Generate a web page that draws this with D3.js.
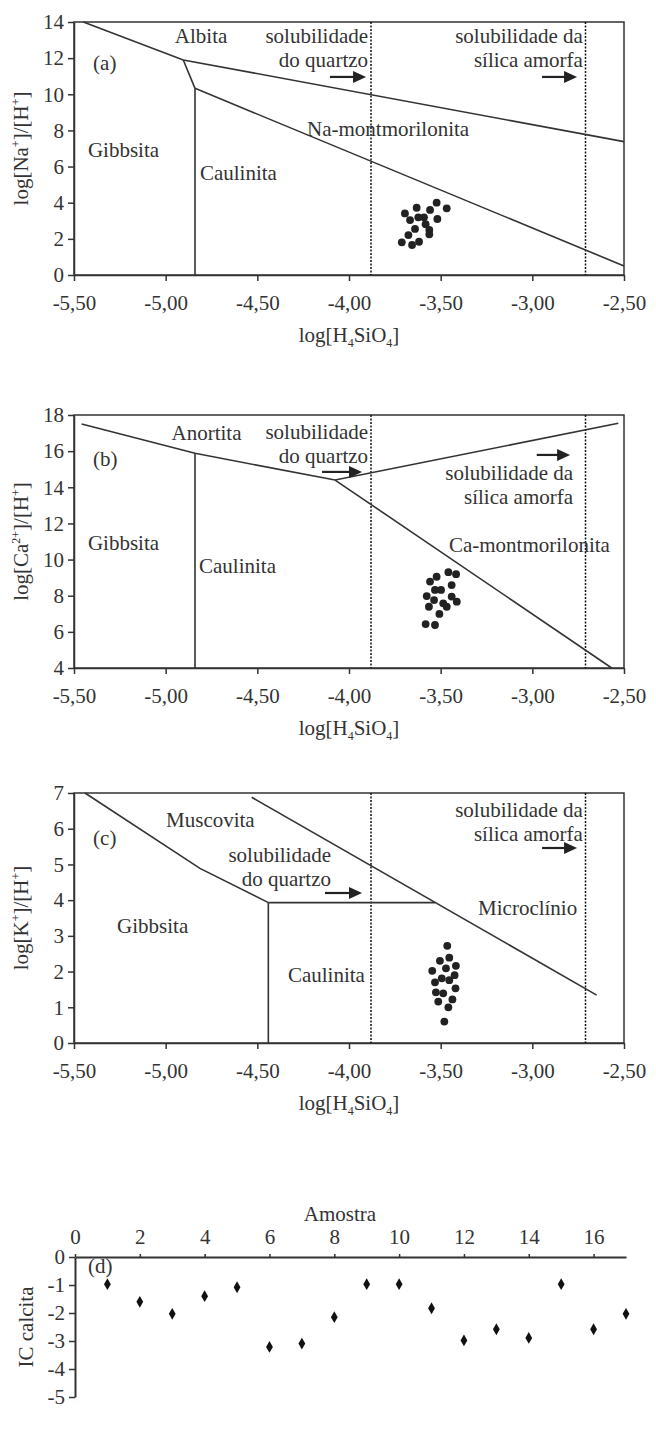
<!DOCTYPE html>
<html>
<head>
<meta charset="utf-8">
<script src="https://cdn.jsdelivr.net/npm/d3@7"></script>
<style>
    body { margin: 0; background: #fff; }
    svg text { font-family: "Liberation Serif", "Times New Roman", serif; fill: #333; }
</style>
</head>
<body>
<div id="chart"></div>
<script>

// shared x axis of the three stability diagrams
var xTicks = [-5.5, -5, -4.5, -4, -3.5, -3, -2.5];
var xTickLabels = ["-5,50", "-5,00", "-4,50", "-4,00", "-3,50", "-3,00", "-2,50"];
var silicaLimits = [-3.88, -2.71];   // quartzo, silica amorfa

// (a) Na
var naTicks = [0, 2, 4, 6, 8, 10, 12, 14];
var naBoundaries = [
    [[-5.449, 14], [-4.904, 11.9], [-2.5, 7.38]],
    [[-4.904, 11.9], [-4.84, 10.33]],
    [[-4.84, 10.33], [-4.84, 0]],
    [[-4.84, 10.33], [-2.5, 0.5]]
];
var naSilica = [-3.695, -3.631, -3.667, -3.622, -3.591, -3.558, -3.522, -3.467, -3.518, -3.582, -3.640, -3.562, -3.562, -3.676, -3.712, -3.656, -3.618];
var naRatio = [3.41, 3.72, 3.04, 3.19, 3.19, 3.60, 4.00, 3.69, 3.10, 2.81, 2.55, 2.49, 2.25, 2.21, 1.81, 1.66, 1.84];

// (b) Ca
var caTicks = [4, 6, 8, 10, 12, 14, 16, 18];
var caBoundaries = [
    [[-5.458, 17.5], [-4.84, 15.88], [-4.076, 14.4]],
    [[-4.076, 14.4], [-2.531, 17.54]],
    [[-4.84, 15.88], [-4.84, 4]],
    [[-4.076, 14.4], [-2.567, 4]]
];
var caSilica = [-3.582, -3.531, -3.564, -3.507, -3.576, -3.536, -3.486, -3.467, -3.440, -3.412, -3.531, -3.498, -3.440, -3.522, -3.458, -3.416, -3.558];
var caRatio = [6.43, 6.38, 7.39, 6.99, 7.98, 7.76, 7.58, 7.39, 7.95, 7.67, 8.32, 8.32, 8.59, 9.05, 9.30, 9.19, 8.78];

// (c) K
var kTicks = [0, 1, 2, 3, 4, 5, 6, 7];
var kBoundaries = [
    [[-5.44, 7.0], [-4.813, 4.89], [-4.44, 3.93]],
    [[-4.44, 3.93], [-3.531, 3.93]],
    [[-4.44, 3.93], [-4.44, 0]],
    [[-4.531, 6.88], [-2.649, 1.34]]
];
var kSilica = [-3.464, -3.453, -3.504, -3.546, -3.471, -3.417, -3.531, -3.494, -3.453, -3.424, -3.526, -3.486, -3.419, -3.513, -3.436, -3.458, -3.480];
var kRatio = [2.72, 2.39, 2.30, 2.02, 2.09, 2.16, 1.70, 1.81, 1.76, 1.90, 1.42, 1.39, 1.53, 1.16, 1.22, 1.00, 0.60];

// (d) indice de saturacao da calcita
var amostra = [1, 2, 3, 4, 5, 6, 7, 8, 9, 10, 11, 12, 13, 14, 15, 16, 17];
var icCalcita = [-0.97, -1.60, -2.03, -1.40, -1.08, -3.21, -3.09, -2.15, -0.97, -0.97, -1.83, -2.98, -2.58, -2.89, -0.97, -2.58, -2.03];
var amostraTicks = [0, 2, 4, 6, 8, 10, 12, 14, 16];
var icTicks = [0, -1, -2, -3, -4, -5];

var ink = "#333",
    fontSize = 21,
    lineGap = 24,
    plotLeft = 74,
    plotRight = 624;

var svg = d3.select("#chart").append("svg")
    .attr("width", 656)
    .attr("height", 1430);

var styleAxis = function(sel, width) {
    sel.select(".domain").attr("stroke", ink).attr("stroke-width", width || 1.5);
    sel.selectAll(".tick line").attr("stroke", ink).attr("stroke-width", 1.5);
    sel.selectAll(".tick text")
        .attr("fill", ink)
        .style("font-size", fontSize + "px")
        .style("font-family", '"Liberation Serif", serif');
};

// text with small raised/lowered parts: parts = [[text, shift], ...]
var richText = function(sel, parts) {
    var prev = 0;
    parts.forEach(function(p) {
        var shift = p[1] || 0;
        sel.append("tspan")
            .attr("dy", shift - prev)
            .style("font-size", shift ? "12px" : null)
            .text(p[0]);
        prev = shift;
    });
};

var drawDiagram = function(p) {
    var x = d3.scaleLinear().domain([-5.5, -2.5]).range([plotLeft, plotRight]);
    var y = d3.scaleLinear().domain(p.yDomain).range([p.bottom, p.top]);
    var g = svg.append("g");

    g.append("g")
        .attr("transform", "translate(0," + p.bottom + ")")
        .call(d3.axisBottom(x).tickValues(xTicks)
            .tickFormat(function(d, i) { return xTickLabels[i]; })
            .tickSize(6).tickPadding(14).tickSizeOuter(0))
        .call(styleAxis);

    g.append("g")
        .attr("transform", "translate(" + plotLeft + ",0)")
        .call(d3.axisLeft(y).tickValues(p.yTicks).tickFormat(d3.format("d"))
            .tickSize(6).tickPadding(4).tickSizeOuter(0))
        .call(styleAxis);

    g.append("rect")
        .attr("x", plotLeft).attr("y", p.top)
        .attr("width", plotRight - plotLeft).attr("height", p.bottom - p.top)
        .attr("fill", "none").attr("stroke", ink).attr("stroke-width", 1.5);

    // solubility limits
    g.selectAll(".limit").data(silicaLimits).enter().append("line")
        .attr("x1", x).attr("x2", x)
        .attr("y1", p.top).attr("y2", p.bottom)
        .attr("stroke", "#111").attr("stroke-width", 1.5)
        .attr("stroke-dasharray", "2,1.5");

    var line = d3.line().x(function(d) { return x(d[0]); }).y(function(d) { return y(d[1]); });
    g.selectAll(".boundary").data(p.boundaries).enter().append("path")
        .attr("d", line)
        .attr("fill", "none").attr("stroke", ink).attr("stroke-width", 1.6);

    g.selectAll(".sample").data(p.xs).enter().append("circle")
        .attr("cx", function(d) { return x(d); })
        .attr("cy", function(d, i) { return y(p.ys[i]); })
        .attr("r", 3.9)
        .attr("fill", "#222");

    // arrows
    p.arrows.forEach(function(a) {
        var x1 = x(a[0]), x2 = x(a[1]), yy = y(a[2]);
        g.append("line").attr("x1", x1).attr("x2", x2 - 10).attr("y1", yy).attr("y2", yy)
            .attr("stroke", "#222").attr("stroke-width", 2.2);
        g.append("path")
            .attr("d", "M" + (x2 - 13) + "," + (yy - 6) + "L" + x2 + "," + yy + "L" + (x2 - 13) + "," + (yy + 6) + "Z")
            .attr("fill", "#222");
    });

    // region names and notes
    p.labels.forEach(function(l) {
        l.lines.forEach(function(t, i) {
            g.append("text")
                .attr("x", x(l.x))
                .attr("y", y(l.y) + i * lineGap)
                .attr("text-anchor", l.anchor || "start")
                .style("font-size", fontSize + "px")
                .text(t);
        });
    });

    // axis titles
    var yt = g.append("text")
        .attr("transform", "translate(28," + (p.top + p.bottom) / 2 + ") rotate(-90)")
        .attr("text-anchor", "middle")
        .style("font-size", fontSize + "px");
    richText(yt, p.yTitle);

    var xt = g.append("text")
        .attr("x", (plotLeft + plotRight) / 2)
        .attr("y", p.bottom + 67)
        .attr("text-anchor", "middle")
        .style("font-size", fontSize + "px");
    richText(xt, [["log[H"], ["4", 5], ["SiO"], ["4", 5], ["]", 0]]);
};

drawDiagram({
    top: 22, bottom: 275, yDomain: [0, 14], yTicks: naTicks,
    boundaries: naBoundaries, xs: naSilica, ys: naRatio,
    yTitle: [["log[Na"], ["+", -8], ["]/[H"], ["+", -8], ["]"]],
    arrows: [[-4.104, -3.907, 10.96], [-2.947, -2.756, 10.96]],
    labels: [
        {lines: ["Albita"], x: -4.807, y: 12.84, anchor: "middle"},
        {lines: ["(a)"], x: -5.396, y: 11.34},
        {lines: ["Gibbsita"], x: -5.424, y: 6.53},
        {lines: ["Caulinita"], x: -4.813, y: 5.26},
        {lines: ["Na-montmorilonita"], x: -4.229, y: 7.69},
        {lines: ["solubilidade", "do quartzo"], x: -3.896, y: 12.84, anchor: "end"},
        {lines: ["solubilidade da", "sílica amorfa"], x: -2.724, y: 12.84, anchor: "end"}
    ]
});

drawDiagram({
    top: 415, bottom: 668, yDomain: [4, 18], yTicks: caTicks,
    boundaries: caBoundaries, xs: caSilica, ys: caRatio,
    yTitle: [["log[Ca"], ["2+", -8], ["]/[H"], ["+", -8], ["]"]],
    arrows: [[-4.147, -3.929, 14.85], [-2.976, -2.794, 15.79]],
    labels: [
        {lines: ["Anortita"], x: -4.777, y: 16.62, anchor: "middle"},
        {lines: ["(b)"], x: -5.396, y: 15.18},
        {lines: ["Gibbsita"], x: -5.424, y: 10.53},
        {lines: ["Caulinita"], x: -4.818, y: 9.26},
        {lines: ["Ca-montmorilonita"], x: -3.455, y: 10.42},
        {lines: ["solubilidade", "do quartzo"], x: -3.896, y: 16.67, anchor: "end"},
        {lines: ["solubilidade da", "sílica amorfa"], x: -2.778, y: 14.40, anchor: "end"}
    ]
});

drawDiagram({
    top: 793, bottom: 1043, yDomain: [0, 7], yTicks: kTicks,
    boundaries: kBoundaries, xs: kSilica, ys: kRatio,
    yTitle: [["log[K"], ["+", -8], ["]/[H"], ["+", -8], ["]"]],
    arrows: [[-4.131, -3.929, 4.20], [-2.947, -2.756, 5.46]],
    labels: [
        {lines: ["Muscovita"], x: -4.998, y: 6.05},
        {lines: ["(c)"], x: -5.396, y: 5.54},
        {lines: ["Gibbsita"], x: -5.265, y: 3.08},
        {lines: ["Caulinita"], x: -4.333, y: 1.71},
        {lines: ["Microclínio"], x: -3.296, y: 3.58},
        {lines: ["solubilidade", "do quartzo"], x: -4.098, y: 5.07, anchor: "end"},
        {lines: ["solubilidade da", "sílica amorfa"], x: -2.724, y: 6.33, anchor: "end"}
    ]
});

// (d) IC calcita por amostra
(function() {
    var top = 1257, bottom = 1397, left = 75, right = 626;
    var x = d3.scaleLinear().domain([0, 17]).range([left, right]);
    var y = d3.scaleLinear().domain([-5, 0]).range([bottom, top]);
    var g = svg.append("g");

    g.append("g")
        .attr("transform", "translate(0," + top + ")")
        .call(d3.axisTop(x).tickValues(amostraTicks).tickSize(3).tickPadding(10).tickSizeOuter(0))
        .call(styleAxis, 2);

    g.append("g")
        .attr("transform", "translate(" + left + ",0)")
        .call(d3.axisLeft(y).tickValues(icTicks).tickFormat(d3.format("d")).tickSize(6).tickPadding(4).tickSizeOuter(0))
        .call(styleAxis, 2);
    // hyphen minus as in the original
    g.selectAll(".tick text").text(function() { return this.textContent.replace("\u2212", "-"); });

    g.selectAll(".ic").data(amostra).enter().append("path")
        .attr("d", d3.symbol(d3.symbolDiamond, 40))
        .attr("transform", function(d, i) { return "translate(" + x(d) + "," + y(icCalcita[i]) + ")"; })
        .attr("fill", "#111");

    g.append("text")
        .attr("x", x(0.4)).attr("y", top + 16)
        .style("font-size", fontSize + "px")
        .text("(d)");

    g.append("text")
        .attr("x", 340).attr("y", top - 36)
        .attr("text-anchor", "middle")
        .style("font-size", fontSize + "px")
        .text("Amostra");

    g.append("text")
        .attr("transform", "translate(33," + (top + bottom) / 2 + ") rotate(-90)")
        .attr("text-anchor", "middle")
        .style("font-size", fontSize + "px")
        .text("IC calcita");
})();

</script>
</body>
</html>
